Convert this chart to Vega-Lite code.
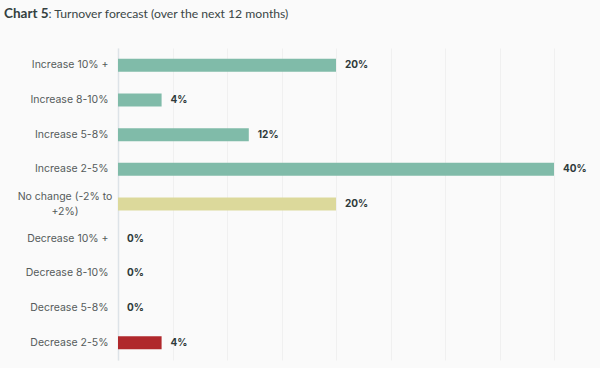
{
  "$schema": "https://vega.github.io/schema/vega-lite/v6.json",
  "width": 436,
  "height": 312,
  "autosize": {"type": "none"},
  "padding": {"left": 118, "top": 48, "right": 46, "bottom": 8},
  "background": "#fafafa",
  "title": {
    "text": "Chart 5",
    "anchor": "start",
    "frame": "group",
    "dx": -114,
    "offset": -24,
    "baseline": "alphabetic",
    "font": "Lato",
    "fontSize": 13.5,
    "fontWeight": "bold",
    "color": "#34403f"
  },
  "data": {
    "values": [
      {"category": "Increase 10% +", "value": 20, "type": "increase"},
      {"category": "Increase 8-10%", "value": 4, "type": "increase"},
      {"category": "Increase 5-8%", "value": 12, "type": "increase"},
      {"category": "Increase 2-5%", "value": 40, "type": "increase"},
      {"category": "No change (-2% to +2%)", "value": 20, "type": "nochange"},
      {"category": "Decrease 10% +", "value": 0, "type": "decrease"},
      {"category": "Decrease 8-10%", "value": 0, "type": "decrease"},
      {"category": "Decrease 5-8%", "value": 0, "type": "decrease"},
      {"category": "Decrease 2-5%", "value": 4, "type": "decrease"}
    ]
  },
  "config": {"view": {"stroke": null}},
  "encoding": {
    "y": {
      "field": "category",
      "type": "nominal",
      "sort": null,
      "scale": {"paddingInner": 0, "paddingOuter": 0},
      "axis": {
        "title": ": Turnover forecast (over the next 12 months)",
        "titleAngle": 0,
        "titleAlign": "left",
        "titleBaseline": "alphabetic",
        "titleX": -70,
        "titleY": -31,
        "titleFont": "Lato",
        "titleFontSize": 12.2,
        "titleFontWeight": "normal",
        "titleColor": "#3a4646",
        "ticks": false,
        "domain": true,
        "domainColor": "#dde3e8",
        "domainWidth": 1.5,
        "labelFont": "Inter",
        "labelFontSize": 10.5,
        "labelColor": "#555b5b",
        "labelLineHeight": 15,
        "labelExpr": "datum.value == 'No change (-2% to +2%)' ? ['No change (-2% to', '+2%)'] : datum.value",
        "labelAlign": {"condition": {"test": "datum.value == 'No change (-2% to +2%)'", "value": "center"}, "value": "right"},
        "labelPadding": {"condition": {"test": "datum.value == 'No change (-2% to +2%)'", "value": 53.5}, "value": 10},
        "labelOffset": {"condition": {"test": "datum.value == 'No change (-2% to +2%)'", "value": -7.5}, "value": 0}
      }
    },
    "x": {
      "field": "value",
      "type": "quantitative",
      "scale": {"domain": [0, 40]},
      "axis": {
        "values": [0, 5, 10, 15, 20, 25, 30, 35, 40],
        "labels": false,
        "ticks": false,
        "domain": false,
        "title": null,
        "grid": true,
        "gridColor": "#f0f0f0",
        "gridWidth": 1
      }
    }
  },
  "layer": [
    {
      "mark": {"type": "bar", "size": 13},
      "encoding": {
        "color": {
          "field": "type",
          "type": "nominal",
          "legend": null,
          "scale": {"domain": ["increase", "nochange", "decrease"], "range": ["#80bba9", "#dcd99b", "#b0282c"]}
        }
      }
    },
    {
      "transform": [{"calculate": "datum.value + '%'", "as": "label"}],
      "mark": {"type": "text", "align": "left", "dx": 9, "font": "Inter", "fontSize": 10, "fontWeight": "bold", "color": "#2e3a3a"},
      "encoding": {
        "text": {"field": "label", "type": "nominal"}
      }
    }
  ]
}
